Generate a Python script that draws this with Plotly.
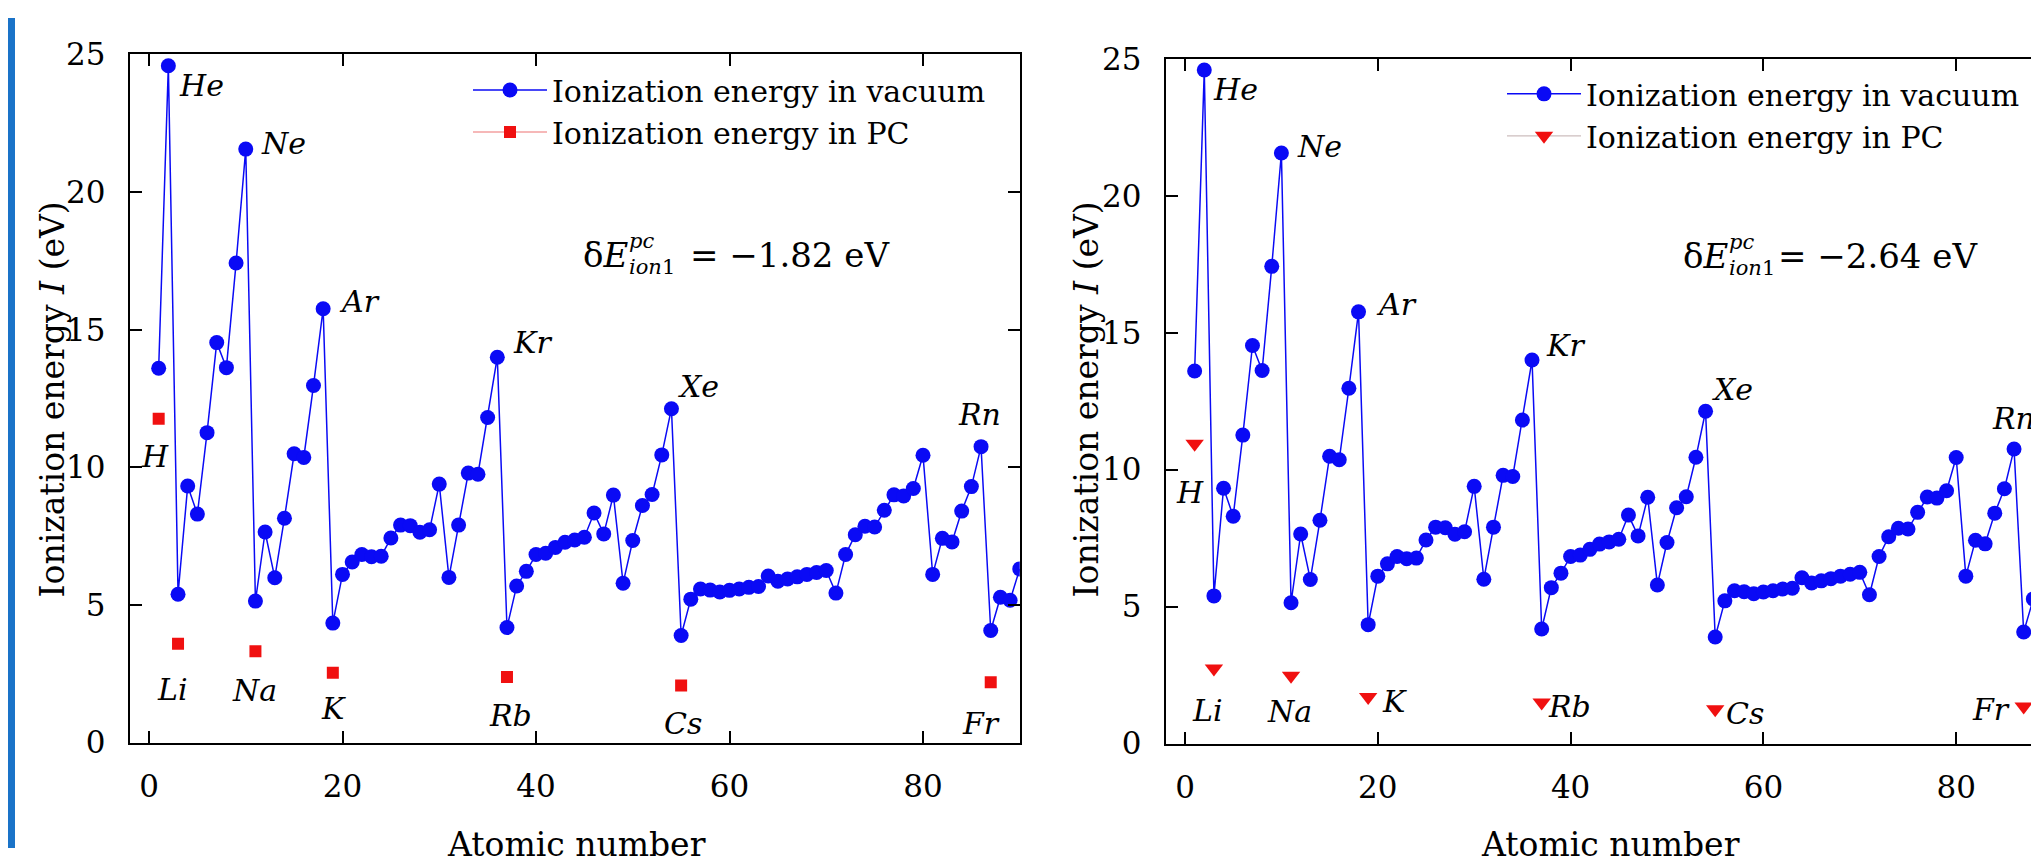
import plotly.graph_objects as go

# ---------------- data ----------------
atomic_number = list(range(1, 91))
ie_vacuum = [13.60, 24.59, 5.39, 9.32, 8.30, 11.26, 14.53, 13.62, 17.42, 21.56,
             5.14, 7.65, 5.99, 8.15, 10.49, 10.36, 12.97, 15.76, 4.34, 6.11,
             6.56, 6.83, 6.75, 6.77, 7.43, 7.90, 7.88, 7.64, 7.73, 9.39,
             6.00, 7.90, 9.79, 9.75, 11.81, 14.00, 4.18, 5.69, 6.22, 6.83,
             6.88, 7.09, 7.28, 7.36, 7.46, 8.34, 7.58, 8.99, 5.79, 7.34,
             8.61, 9.01, 10.45, 12.13, 3.89, 5.21, 5.58, 5.54, 5.47, 5.53,
             5.58, 5.64, 5.67, 6.05, 5.86, 5.94, 6.02, 6.11, 6.18, 6.25,
             5.43, 6.83, 7.55, 7.86, 7.83, 8.44, 9.00, 8.96, 9.23, 10.44,
             6.11, 7.42, 7.29, 8.41, 9.30, 10.75, 4.07, 5.28, 5.17, 6.31]

alkali_names = ["H", "Li", "Na", "K", "Rb", "Cs", "Fr"]
alkali_z = [1, 3, 11, 19, 37, 55, 87]
ie_pc_left = [11.76, 3.59, 3.32, 2.54, 2.38, 2.07, 2.19]
ie_pc_right = [10.94, 2.74, 2.47, 1.70, 1.50, 1.25, 1.35]

noble_names = ["He", "Ne", "Ar", "Kr", "Xe", "Rn"]

shift_left = "−1.82 eV"
shift_right = "−2.64 eV"

x_ticks = [0, 20, 40, 60, 80]
y_ticks = [0, 5, 10, 15, 20, 25]

# ---------------- layout helpers ----------------
W, H = 2031, 866
FONT = "DejaVu Serif, Liberation Serif, Times New Roman, serif"


def fx(px):
    return px / W


def fy(py):
    return 1 - py / H


noble_pos_left = [(5.4, 23.86), (13.9, 21.76), (21.8, 16.03), (39.6, 14.55), (56.8, 12.92), (85.8, 11.91)]
alkali_pos_left = [(0.6, 10.41), (2.4, 1.92), (10.9, 1.88), (19.1, 1.22), (37.4, 0.97), (55.2, 0.70), (86.0, 0.70)]
noble_pos_right = [(5.23, 23.86), (13.96, 21.8), (21.9, 16.03), (39.5, 14.53), (56.8, 12.91), (85.9, 11.87)]
alkali_pos_right = [(0.5, 9.18), (2.3, 1.21), (10.8, 1.16), (21.7, 1.54), (39.9, 1.35), (58.1, 1.10), (83.6, 1.25)]


def gapped(xs, ys):
    gx, gy = [], []
    for a, b in zip(xs, ys):
        gx += [a, None]
        gy += [b, None]
    return gx, gy


fig = go.Figure()

blue = "#0a0af5"
red = "#f01010"

fig.add_trace(go.Scatter(
    x=atomic_number, y=ie_vacuum, mode="lines+markers",
    name="Ionization energy in vacuum",
    line=dict(color=blue, width=1.5),
    marker=dict(color=blue, size=15, symbol="circle", line=dict(width=0)),
    xaxis="x", yaxis="y", legend="legend"))
gx, gy = gapped(alkali_z, ie_pc_left)
fig.add_trace(go.Scatter(
    x=gx, y=gy, mode="lines+markers", connectgaps=False,
    name="Ionization energy in PC",
    line=dict(color="rgba(235,90,90,0.85)", width=1.2),
    marker=dict(color=red, size=12, symbol="square", line=dict(width=0)),
    xaxis="x", yaxis="y", legend="legend"))

fig.add_trace(go.Scatter(
    x=atomic_number, y=ie_vacuum, mode="lines+markers",
    name="Ionization energy in vacuum",
    line=dict(color=blue, width=1.5),
    marker=dict(color=blue, size=15, symbol="circle", line=dict(width=0)),
    xaxis="x2", yaxis="y2", legend="legend2"))
gx, gy = gapped(alkali_z, ie_pc_right)
fig.add_trace(go.Scatter(
    x=gx, y=gy, mode="lines+markers", connectgaps=False,
    name="Ionization energy in PC",
    line=dict(color="rgb(205,190,190)", width=1.2),
    marker=dict(color=red, size=16, symbol="triangle-down", line=dict(width=0)),
    xaxis="x2", yaxis="y2", legend="legend2"))

axis_common = dict(
    showline=True, linecolor="black", linewidth=2,
    ticks="inside", ticklen=12, tickwidth=2, tickcolor="black",
    showgrid=False, zeroline=False,
    tickfont=dict(family=FONT, size=31, color="black"),
)

fig.update_layout(
    xaxis=dict(domain=[fx(149 - 2 * 9.675), fx(149 + 90 * 9.675)], range=[-2, 90],
               tickvals=x_ticks, mirror="ticks", anchor="y", ticklabelstandoff=15, **axis_common),
    yaxis=dict(domain=[fy(756), fy(38)], range=[0, 25], tickvals=y_ticks,
               mirror="ticks", anchor="x", ticklabelstandoff=16, **axis_common),
    xaxis2=dict(domain=[fx(1185 - 2 * 9.64), 1.0], range=[-2, (W - 1185) / 9.64],
                tickvals=x_ticks, mirror="ticks", anchor="y2", ticklabelstandoff=15, **axis_common),
    yaxis2=dict(domain=[fy(757), fy(42.5)], range=[0, 25], tickvals=y_ticks,
                mirror=False, anchor="x2", ticklabelstandoff=16, **axis_common),
)

legend_common = dict(
    xanchor="left", yanchor="top", bgcolor="rgba(0,0,0,0)",
    font=dict(family=FONT, size=30, color="black"),
    itemwidth=74, tracegroupgap=0,
)
fig.update_layout(
    legend=dict(x=fx(468), y=fy(48), **legend_common),
    legend2=dict(x=fx(1502), y=fy(52), **legend_common),
)

ann = []
lab_font = dict(family=FONT, size=30, color="black")
for names, pos, xr, yr in [(noble_names, noble_pos_left, "x", "y"),
                           (alkali_names, alkali_pos_left, "x", "y"),
                           (noble_names, noble_pos_right, "x2", "y2"),
                           (alkali_names, alkali_pos_right, "x2", "y2")]:
    for n, (px_, py_) in zip(names, pos):
        ann.append(dict(x=px_, y=py_, xref=xr, yref=yr, text=f"<i>{n}</i>",
                        showarrow=False, font=lab_font, xanchor="center", yanchor="middle"))

big = dict(family=FONT, size=34, color="black")
small = dict(family=FONT, size=21, color="black")
for e_end, eq_x, yc, val in [(630, 688, 247, shift_left), (1730, 1776, 248, shift_right)]:
    ann.append(dict(x=fx(e_end), y=fy(yc), xref="paper", yref="paper", text="δ<i>E</i>",
                    showarrow=False, font=big, xanchor="right", yanchor="middle"))
    ann.append(dict(x=fx(e_end - 3), y=fy(yc - 14), xref="paper", yref="paper", text="<i>pc</i>",
                    showarrow=False, font=small, xanchor="left", yanchor="middle"))
    ann.append(dict(x=fx(e_end - 3), y=fy(yc + 13), xref="paper", yref="paper", text="<i>ion</i>1",
                    showarrow=False, font=small, xanchor="left", yanchor="middle"))
    ann.append(dict(x=fx(eq_x), y=fy(yc), xref="paper", yref="paper", text=f"= {val}",
                    showarrow=False, font=big, xanchor="left", yanchor="middle"))

title_font = dict(family=FONT, size=33, color="black")
for cx in [576, 1610]:
    ann.append(dict(x=fx(cx), y=fy(850), xref="paper", yref="paper", text="Atomic number",
                    showarrow=False, font=title_font, xanchor="center", yanchor="middle",
                    yshift=-12))
for cx in [52, 1086]:
    ann.append(dict(x=fx(cx), y=fy(398), xref="paper", yref="paper",
                    text="Ionization energy <i>I</i> (eV)", textangle=-90,
                    showarrow=False, font=title_font, xanchor="center", yanchor="middle"))

fig.update_layout(
    annotations=ann,
    width=W, height=H,
    margin=dict(l=0, r=0, t=0, b=0),
    paper_bgcolor="white", plot_bgcolor="white",
    font=dict(family=FONT),
    showlegend=True,
    shapes=[dict(type="rect", xref="paper", yref="paper", x0=fx(8), x1=fx(15), y0=0, y1=1,
                 fillcolor="#1a73c8", line=dict(width=0), layer="above")],
)

fig.write_html("out.html")
